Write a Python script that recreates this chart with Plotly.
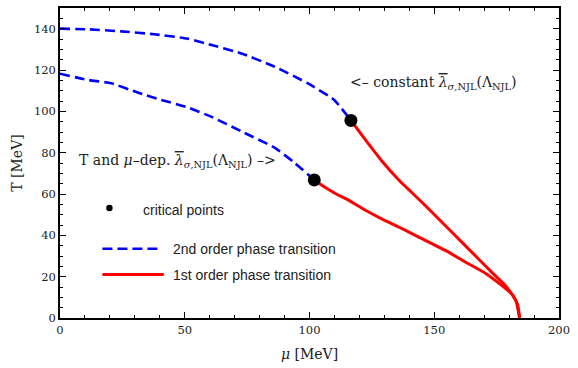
import plotly.graph_objects as go

# Second order (crossover) lines: constant coupling (upper) and T, mu dependent coupling (lower)
mu_2nd_const = [0, 11.2, 24.5, 37.7, 50.9, 59.5, 72.7, 86.0, 99.2, 109.8, 116.6]
T_2nd_const = [140.0, 139.7, 138.7, 137.3, 135.2, 132.5, 128.0, 121.6, 113.6, 105.6, 95.6]

mu_2nd_dep = [0, 11.2, 20.5, 31.1, 40.4, 50.9, 60.8, 72.7, 86.0, 93.9, 101.9]
T_2nd_dep = [118.2, 115.2, 113.6, 109.1, 105.6, 102.0, 97.3, 90.3, 82.4, 75.2, 66.8]

# First order lines
mu_1st_const = [116.6, 122.8, 129.0, 136.0, 146.5, 157.1, 165.0, 172.9, 177.5, 180.9, 182.9, 184.2]
T_1st_const = [95.6, 85.6, 76.0, 66.5, 54.3, 41.5, 31.9, 22.3, 17.0, 11.9, 7.9, 0.0]

mu_1st_dep = [101.9, 106.5, 110.9, 114.9, 122.8, 129.5, 136.0, 142.6, 154.5, 162.4,
              170.3, 176.9, 181.5, 183.5, 184.2]
T_1st_dep = [66.8, 63.0, 59.9, 57.5, 51.9, 47.6, 43.9, 39.9, 32.7, 27.1,
             21.8, 15.9, 11.0, 6.2, 0.0]

# Critical end points
mu_crit = [116.6, 101.9]
T_crit = [95.6, 66.8]

BLUE = "#0000ff"
RED = "#ff0000"
SERIF = "DejaVu Serif, serif"
SANS = "Liberation Sans, Arial, sans-serif"
TXT = "#222222"

fig = go.Figure()
dash_style = "10px,5px"
for mu, T in [(mu_2nd_const, T_2nd_const), (mu_2nd_dep, T_2nd_dep)]:
    fig.add_trace(go.Scatter(x=mu, y=T, mode="lines",
                             line=dict(color=BLUE, width=2.6, dash=dash_style, shape="spline", smoothing=0.5),
                             showlegend=False, hoverinfo="skip"))
for mu, T in [(mu_1st_const, T_1st_const), (mu_1st_dep, T_1st_dep)]:
    fig.add_trace(go.Scatter(x=mu, y=T, mode="lines",
                             line=dict(color=RED, width=3, shape="spline", smoothing=0.3),
                             showlegend=False, hoverinfo="skip"))
fig.add_trace(go.Scatter(x=mu_crit, y=T_crit, mode="markers", marker=dict(color="black", size=13),
                         showlegend=False, hoverinfo="skip"))

# Legend drawn inside the frame
fig.add_shape(type="circle", xref="x", yref="y", x0=18.5, x1=21.1, y0=51.6, y1=54.8,
              fillcolor="black", line=dict(color="black", width=0))
fig.add_shape(type="line", xref="x", yref="y", x0=17, x1=40.4, y0=33.5, y1=33.5,
              line=dict(color=BLUE, width=2.6, dash=dash_style))
fig.add_shape(type="line", xref="x", yref="y", x0=17, x1=41.6, y0=21.0, y1=21.0,
              line=dict(color=RED, width=3))
legend_items = [("critical points", 32.3, 52.4), ("2nd order phase transition", 44.6, 33.4),
                ("1st order phase transition", 44.6, 20.6)]
for txt, x, y in legend_items:
    fig.add_annotation(x=x, y=y, xref="x", yref="y", text=txt, showarrow=False, xanchor="left",
                       yanchor="middle", font=dict(family=SANS, size=14, color=TXT))

lam = ("<span style=\"text-decoration:overline\"><i>\u03bb</i></span>"
       "<sub><i>\u03c3</i>,NJL</sub>(\u039b<sub>NJL</sub>)")
fig.add_annotation(x=115.6, y=113.7, xref="x", yref="y", text="<\u2013 constant " + lam,
                   showarrow=False, xanchor="left", yanchor="middle",
                   font=dict(family=SERIF, size=14, color=TXT))
fig.add_annotation(x=6.7, y=75.8, xref="x", yref="y",
                   text="T and <i>\u03bc</i>\u2013dep. " + lam + " \u2013>",
                   showarrow=False, xanchor="left", yanchor="middle",
                   font=dict(family=SERIF, size=14, color=TXT))

tick_common = dict(showgrid=False, zeroline=False, showline=True, linecolor="black", linewidth=1.5,
                   ticks="inside", ticklen=6, tickwidth=1.2, tickcolor="black",
                   tickfont=dict(family=SERIF, size=11.5, color=TXT))
x_ticks = dict(range=[0, 200], dtick=50, tick0=0,
               minor=dict(dtick=10, ticks="inside", ticklen=3.5, tickwidth=1, tickcolor="black"))
y_ticks = dict(range=[0, 150], dtick=20, tick0=0,
               minor=dict(dtick=5, ticks="inside", ticklen=3.5, tickwidth=1, tickcolor="black"))

fig.update_layout(
    xaxis=dict(**tick_common, **x_ticks,
               title=dict(text="<i>\u03bc</i> [MeV]", font=dict(family=SERIF, size=14, color=TXT), standoff=14)),
    yaxis=dict(**tick_common, **y_ticks,
               title=dict(text="T [MeV]", font=dict(family=SERIF, size=14, color=TXT), standoff=8)),
    # frame ticks on the top and right edges
    xaxis2=dict(**tick_common, **x_ticks, overlaying="x", side="top", showticklabels=False),
    yaxis2=dict(**tick_common, **y_ticks, overlaying="y", side="right", showticklabels=False),
    width=578, height=368, margin=dict(l=60, r=13, t=8, b=48),
    plot_bgcolor="white", paper_bgcolor="white",
)
# invisible trace so the frame axes are drawn
fig.add_trace(go.Scatter(x=[0], y=[0], xaxis="x2", yaxis="y2", mode="markers",
                         marker=dict(opacity=0), showlegend=False, hoverinfo="skip"))

fig.write_html("out.html")
